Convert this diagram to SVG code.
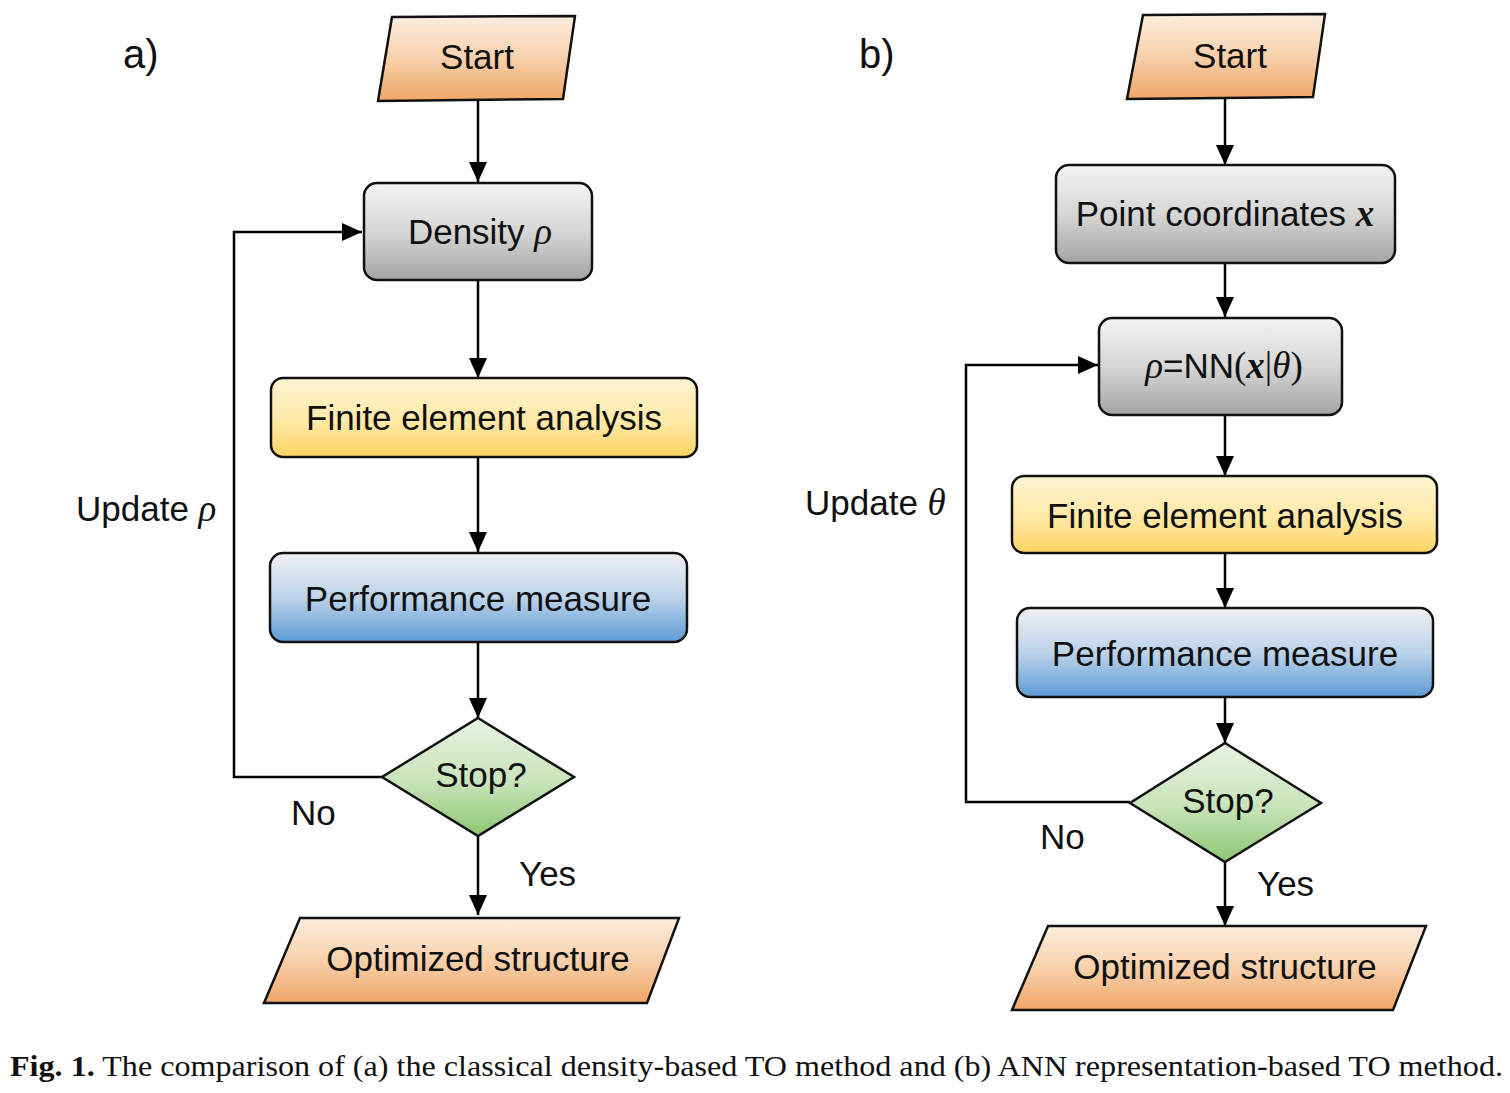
<svg xmlns="http://www.w3.org/2000/svg" width="1510" height="1093" viewBox="0 0 1510 1093">
<style>
.t{font-family:"Liberation Sans",Arial,sans-serif;font-size:35px;fill:#111;text-anchor:middle}
.lbl{font-family:"Liberation Sans",Arial,sans-serif;font-size:35px;fill:#111}
.pl{font-family:"Liberation Sans",Arial,sans-serif;font-size:40px;fill:#111}
.m{font-family:"Liberation Serif","Times New Roman",serif;font-style:italic;font-size:37px}
.mb{font-family:"Liberation Serif","Times New Roman",serif;font-style:italic;font-weight:bold;font-size:37px}
.ms{font-family:"Liberation Serif","Times New Roman",serif;font-size:37px}
.sh{stroke:#111;stroke-width:2.5}
.c{fill:none;stroke:#000;stroke-width:2.5}
.cap{font-family:"Liberation Serif","Times New Roman",serif;font-size:30px;fill:#111}
</style>
<defs>
<linearGradient id="gO" x1="0" y1="0" x2="0" y2="1"><stop offset="0" stop-color="#fdeedf"/><stop offset="0.5" stop-color="#f8d0ab"/><stop offset="1" stop-color="#efa667"/></linearGradient>
<linearGradient id="gG" x1="0" y1="0" x2="0" y2="1"><stop offset="0" stop-color="#f3f3f3"/><stop offset="0.5" stop-color="#d6d6d6"/><stop offset="1" stop-color="#a4a4a4"/></linearGradient>
<linearGradient id="gY" x1="0" y1="0" x2="0" y2="1"><stop offset="0" stop-color="#fff4d2"/><stop offset="0.55" stop-color="#ffe9a6"/><stop offset="1" stop-color="#fdd363"/></linearGradient>
<linearGradient id="gB" x1="0" y1="0" x2="0" y2="1"><stop offset="0" stop-color="#f0f1f3"/><stop offset="0.5" stop-color="#bcd3ea"/><stop offset="1" stop-color="#5e9bd6"/></linearGradient>
<linearGradient id="gV" x1="0" y1="0" x2="0" y2="1"><stop offset="0" stop-color="#e8f3e2"/><stop offset="0.55" stop-color="#c7e3b8"/><stop offset="1" stop-color="#8cc672"/></linearGradient>
<marker id="ar" markerUnits="userSpaceOnUse" markerWidth="20" markerHeight="20" viewBox="0 0 20 20" refX="20" refY="10" orient="auto"><path d="M0,1 L20,10 L0,19 z" fill="#000"/></marker>
</defs>
<rect width="1510" height="1093" fill="#fff"/>

<text class="pl" x="123" y="68">a)</text>
<text class="pl" x="859" y="68">b)</text>

<g id="connectors">
<path class="c" d="M478,100 V182" marker-end="url(#ar)"/>
<path class="c" d="M478,280 V378" marker-end="url(#ar)"/>
<path class="c" d="M478,457 V552" marker-end="url(#ar)"/>
<path class="c" d="M478,642 V718" marker-end="url(#ar)"/>
<path class="c" d="M478,836 V915" marker-end="url(#ar)"/>
<path class="c" d="M382,777 H234 V232 H362" marker-end="url(#ar)"/>
<path class="c" d="M1225,98 V165" marker-end="url(#ar)"/>
<path class="c" d="M1225,263 V317" marker-end="url(#ar)"/>
<path class="c" d="M1225,415 V476" marker-end="url(#ar)"/>
<path class="c" d="M1225,553 V608" marker-end="url(#ar)"/>
<path class="c" d="M1225,697 V743" marker-end="url(#ar)"/>
<path class="c" d="M1225,862 V926" marker-end="url(#ar)"/>
<path class="c" d="M1130,802 H966 V365 H1098" marker-end="url(#ar)"/>
</g>

<g id="a-start">
<path class="sh" fill="url(#gO)" d="M392,17 L575,16 L563,99 L378,101 z"/>
<text class="t" x="477" y="69">Start</text>
</g>
<g id="a-density">
<rect class="sh" fill="url(#gG)" x="364" y="183" width="228" height="97" rx="13"/>
<text class="t" x="480" y="244">Density <tspan class="m">ρ</tspan></text>
</g>
<g id="a-fea">
<rect class="sh" fill="url(#gY)" x="271" y="378" width="426" height="79" rx="12"/>
<text class="t" x="484" y="430">Finite element analysis</text>
</g>
<g id="a-perf">
<rect class="sh" fill="url(#gB)" x="270" y="553" width="417" height="89" rx="13"/>
<text class="t" x="478" y="611">Performance measure</text>
</g>
<g id="a-stop">
<path class="sh" fill="url(#gV)" d="M478,718 L574,777 L478,836 L382,777 z"/>
<text class="t" x="481" y="787">Stop?</text>
</g>
<g id="a-opt">
<path class="sh" fill="url(#gO)" d="M300,918 L679,918 L647,1003 L264,1003 z"/>
<text class="t" x="478" y="971">Optimized structure</text>
</g>
<text class="lbl" x="76" y="521">Update <tspan class="m">ρ</tspan></text>
<text class="lbl" x="291" y="825">No</text>
<text class="lbl" x="519" y="886">Yes</text>

<g id="b-start">
<path class="sh" fill="url(#gO)" d="M1143,15 L1325,14 L1313,97 L1127,99 z"/>
<text class="t" x="1230" y="68">Start</text>
</g>
<g id="b-coords">
<rect class="sh" fill="url(#gG)" x="1056" y="165" width="339" height="98" rx="13"/>
<text class="t" x="1225" y="226">Point coordinates <tspan class="mb">x</tspan></text>
</g>
<g id="b-nn">
<rect class="sh" fill="url(#gG)" x="1099" y="318" width="243" height="97" rx="13"/>
<text class="t" x="1224" y="378"><tspan class="m">ρ</tspan>=NN<tspan class="ms">(</tspan><tspan class="mb">x</tspan><tspan class="ms">|</tspan><tspan class="m">θ</tspan><tspan class="ms">)</tspan></text>
</g>
<g id="b-fea">
<rect class="sh" fill="url(#gY)" x="1012" y="476" width="425" height="77" rx="12"/>
<text class="t" x="1225" y="528">Finite element analysis</text>
</g>
<g id="b-perf">
<rect class="sh" fill="url(#gB)" x="1017" y="608" width="416" height="89" rx="13"/>
<text class="t" x="1225" y="666">Performance measure</text>
</g>
<g id="b-stop">
<path class="sh" fill="url(#gV)" d="M1225,743 L1321,803 L1225,862 L1130,803 z"/>
<text class="t" x="1228" y="813">Stop?</text>
</g>
<g id="b-opt">
<path class="sh" fill="url(#gO)" d="M1048,926 L1426,926 L1393,1010 L1012,1010 z"/>
<text class="t" x="1225" y="979">Optimized structure</text>
</g>
<text class="lbl" x="805" y="515">Update <tspan class="m">θ</tspan></text>
<text class="lbl" x="1040" y="849">No</text>
<text class="lbl" x="1257" y="896">Yes</text>

<text class="cap" x="10" y="1076" textLength="1493" lengthAdjust="spacingAndGlyphs"><tspan font-weight="bold">Fig. 1.</tspan> The comparison of (a) the classical density-based TO method and (b) ANN representation-based TO method.</text>
</svg>
